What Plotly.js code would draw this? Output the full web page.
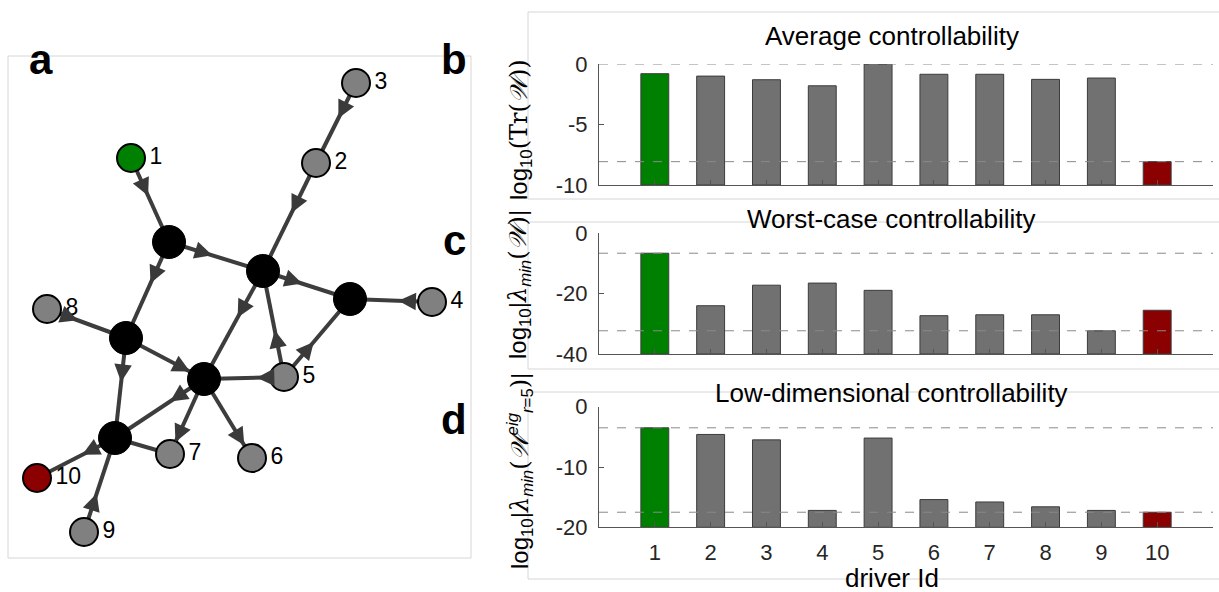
<!DOCTYPE html>
<html>
<head>
<meta charset="utf-8">
<script src="https://cdn.plot.ly/plotly-3.0.1.min.js"></script>
<style>html,body{margin:0;padding:0;background:#fff;}#chart{width:1219px;height:592px;}</style>
</head>
<body>
<div id="chart"></div>
<script>
// ---------------- data ----------------
const driverIds = [1, 2, 3, 4, 5, 6, 7, 8, 9, 10];
const averageCtrl = [-0.8, -1.0, -1.3, -1.8, 0.0, -0.85, -0.85, -1.27, -1.16, -8.07];
const worstCaseCtrl = [-6.6, -24.0, -17.2, -16.5, -18.9, -27.3, -27.0, -27.0, -32.3, -25.5];
const lowDimCtrl = [-3.5, -4.6, -5.5, -17.2, -5.2, -15.4, -15.8, -16.6, -17.2, -17.5];
const avgTicks = [0, -5, -10], avgTickText = ['0', '-5', '-10'];
const worstTicks = [0, -20, -40], worstTickText = ['0', '-20', '-40'];
const lowTicks = [0, -10, -20], lowTickText = ['0', '-10', '-20'];

// network layout (driver nodes 1..10 and six internal nodes A..F)
const driverNodeX = [131, 316, 356, 432, 284, 252, 170, 47, 84, 37];
const driverNodeY = [158, 163, 83, 302, 377, 458, 454, 309, 532, 478];
const hubNames = ['A', 'B', 'C', 'D', 'E', 'F'];
const hubNodeX = [169, 263, 350, 126, 204, 115];
const hubNodeY = [242, 271, 299, 338, 379, 438];
const edgeSource = ['1', '3', '2', 'A', 'A', 'B', 'B', '4', '5', '5', '5', 'D', 'D', '8', 'E', 'E', 'E', 'F', '9', '7'];
const edgeTarget = ['A', '2', 'B', 'B', 'D', 'C', 'E', 'C', 'B', 'C', 'E', 'E', 'F', 'D', 'F', '7', '6', '10', 'F', 'F'];
const arrowPos = [0.45, 0.44, 0.46, 0.46, 0.43, 0.45, 0.43, 0.41, 0.44, 0.45, 0.34, 0.82, 0.44, 0.39, 0.38, 0.84, 0.84, 0.42, 0.41, null];

// ---------------- helpers ----------------
const W = 1219, H = 592;
const px = v => v / W;
const py = v => 1 - v / H;
const GREEN = '#008000', RED = '#8b0000', GRAY_BAR = '#717171', GRAY_NODE = '#808080';
const FONT = 'Liberation Sans, Arial, Helvetica, sans-serif';
const driverColor = (i, gray) => i === 0 ? GREEN : (i === driverIds.length - 1 ? RED : gray);

const pos = {};
driverIds.forEach((d, i) => pos[String(d)] = [driverNodeX[i], driverNodeY[i]]);
hubNames.forEach((h, i) => pos[h] = [hubNodeX[i], hubNodeY[i]]);

// ---------------- network traces ----------------
const ex = [], ey = [];
edgeSource.forEach((s, k) => {
  const a = pos[s], b = pos[edgeTarget[k]];
  ex.push(a[0], b[0], null); ey.push(a[1], b[1], null);
});
const traces = [];
traces.push({type: 'scatter', mode: 'lines', x: ex, y: ey, xaxis: 'x4', yaxis: 'y4',
  line: {color: '#3d3d3d', width: 4}, hoverinfo: 'skip', showlegend: false});
traces.push({type: 'scatter', mode: 'markers', x: hubNodeX, y: hubNodeY, xaxis: 'x4', yaxis: 'y4',
  marker: {size: 33, color: '#000', line: {color: '#000', width: 1}}, text: hubNames, hoverinfo: 'text', showlegend: false});
traces.push({type: 'scatter', mode: 'markers+text', x: driverNodeX, y: driverNodeY, xaxis: 'x4', yaxis: 'y4',
  text: driverIds.map(String), textposition: 'middle right',
  textfont: {family: FONT, size: 23, color: '#000'},
  marker: {size: 28, color: driverIds.map((d, i) => driverColor(i, GRAY_NODE)), line: {color: '#000', width: 2}},
  hoverinfo: 'text', showlegend: false});

// ---------------- bar traces ----------------
const panels = [
  {vals: averageCtrl, ax: '', range: [-10, 0], ticks: avgTicks, tt: avgTickText, y0: 64, y1: 185},
  {vals: worstCaseCtrl, ax: '2', range: [-40, 0], ticks: worstTicks, tt: worstTickText, y0: 233.3, y1: 354},
  {vals: lowDimCtrl, ax: '3', range: [-20, 0], ticks: lowTicks, tt: lowTickText, y0: 406.7, y1: 527.3}
];
panels.forEach(p => {
  const base = p.range[0];
  traces.push({type: 'bar', x: driverIds, y: p.vals.map(v => v - base), base: base,
    xaxis: 'x' + p.ax, yaxis: 'y' + p.ax, width: 0.5,
    customdata: p.vals, hovertemplate: '%{x}: %{customdata}<extra></extra>',
    marker: {color: driverIds.map((d, i) => driverColor(i, GRAY_BAR)), line: {color: '#3c3c3c', width: 1}},
    showlegend: false});
});

// ---------------- layout ----------------
const layout = {
  width: W, height: H, margin: {l: 0, r: 0, t: 0, b: 0},
  paper_bgcolor: '#fff', plot_bgcolor: 'rgba(0,0,0,0)',
  font: {family: FONT, color: '#262626'},
  bargap: 0, showlegend: false,
  shapes: [], annotations: []
};
panels.forEach(p => {
  const xa = 'xaxis' + p.ax, ya = 'yaxis' + p.ax;
  layout[xa] = {domain: [px(599), px(1213)], range: [0, 11], anchor: 'y' + p.ax,
    tickvals: driverIds, ticktext: driverIds.map(String), showticklabels: p.ax === '3',
    ticks: 'inside', ticklen: 5, tickcolor: '#555', showline: true, linecolor: '#555', linewidth: 1,
    showgrid: false, zeroline: false, tickfont: {size: 22, color: '#262626'}, ticklabelstandoff: 5, fixedrange: true};
  layout[ya] = {domain: [py(p.y1), py(p.y0)], range: p.range, anchor: 'x' + p.ax,
    tickvals: p.ticks, ticktext: p.tt, ticks: 'inside', ticklen: 5, tickcolor: '#555', showline: true, linecolor: '#555', linewidth: 1,
    showgrid: false, zeroline: false, tickfont: {size: 22, color: '#262626'}, ticklabelstandoff: 6, fixedrange: true};
  const mx = Math.max(...p.vals), mn = Math.min(...p.vals);
  [mx, mn].forEach(v => layout.shapes.push({type: 'line', xref: 'x' + p.ax + ' domain', yref: 'y' + p.ax,
    x0: 0, x1: 1, y0: v, y1: v, line: {color: '#8a8a8a', width: 1, dash: 'dash'}, layer: 'above'}));
});
layout.xaxis4 = {domain: [px(8), px(471)], range: [8, 471], anchor: 'y4', visible: false, fixedrange: true};
layout.yaxis4 = {domain: [py(558), py(56)], range: [558, 56], anchor: 'x4', visible: false, fixedrange: true};

// frames
const frame = (x0, x1, y0, y1) => ({type: 'rect', xref: 'paper', yref: 'paper', x0: px(x0), x1: px(x1), y0: py(y1), y1: py(y0),
  line: {color: '#d6d6d6', width: 1}, fillcolor: 'rgba(0,0,0,0)', layer: 'below'});
layout.shapes.push(frame(8, 471, 56, 558), frame(528, 1230, 12, 199), frame(528, 1230, 222, 369), frame(528, 1230, 392, 579));

// arrows on edges (tip at arrowPos fraction; short shaft lies along the edge)
edgeSource.forEach((s, k) => {
  const f = arrowPos[k];
  if (f === null) return;
  const a = pos[s], b = pos[edgeTarget[k]];
  const dx = b[0] - a[0], dy = b[1] - a[1], L = Math.hypot(dx, dy);
  const tx = a[0] + f * dx, ty = a[1] + f * dy;
  layout.annotations.push({xref: 'x4', yref: 'y4', axref: 'x4', ayref: 'y4', x: tx, y: ty,
    ax: tx - 14 * dx / L, ay: ty - 14 * dy / L, text: ' ', font: {size: 1}, borderpad: 0, showarrow: true,
    arrowhead: 2, arrowsize: 1.35, arrowwidth: 2.6, arrowcolor: '#3a3a3a', standoff: 0, startstandoff: 0});
});

// titles and labels
const ann = (x, y, text, size, extra) => Object.assign({xref: 'paper', yref: 'paper', x: px(x), y: py(y),
  text: text, showarrow: false, font: {family: FONT, size: size, color: '#000'}, xanchor: 'center', yanchor: 'middle'}, extra || {});
layout.annotations.push(
  ann(892, 36, 'Average controllability', 26),
  ann(891, 219, 'Worst-case controllability', 26),
  ann(891, 393, 'Low-dimensional controllability', 26),
  ann(892, 578, 'driver Id', 26),
  ann(41, 59, '<b>a</b>', 42),
  ann(454, 59, '<b>b</b>', 42),
  ann(454, 240, '<b>c</b>', 42),
  ann(454, 419, '<b>d</b>', 42)
);
const SER = "font-family:'DejaVu Serif','Liberation Serif',serif";
const Wcal = '<span style="' + SER + '"><i>𝒲</i></span>';
layout.annotations.push(
  ann(520, 130, 'log<sub>10</sub><span style="' + SER + '">(Tr(</span>' + Wcal + '<span style="' + SER + '">))</span>', 24, {textangle: -90}),
  ann(520, 285, 'log<sub>10</sub>|<span style="' + SER + '"><i>λ</i></span><sub><i>min</i></sub><span style="' + SER + '">(</span>' + Wcal + '<span style="' + SER + '">)</span>|', 24, {textangle: -90}),
  ann(520, 471, 'log<sub>10</sub>|<span style="' + SER + '"><i>λ</i></span><sub><i>min</i></sub><span style="' + SER + '">(</span>' + Wcal + '<sup><i>eig</i></sup><sub><i>r</i>=5</sub><span style="' + SER + '">)</span>|', 24, {textangle: -90})
);

Plotly.newPlot('chart', traces, layout, {displayModeBar: false, staticPlot: true});
</script>
</body>
</html>
